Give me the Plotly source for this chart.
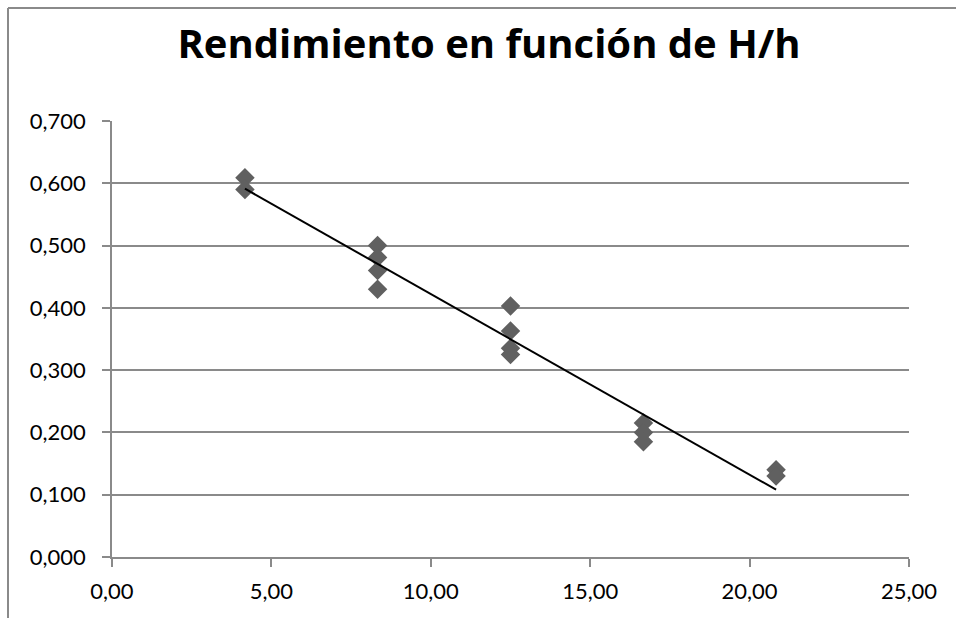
import numpy as np
import plotly.graph_objects as go

# Data
x_vals = [4.17, 4.17, 8.33, 8.33, 8.33, 8.33, 12.50, 12.50, 12.50, 12.50,
          16.67, 16.67, 16.67, 20.83, 20.83]
y_vals = [0.609, 0.590, 0.500, 0.481, 0.460, 0.430, 0.403, 0.363, 0.335, 0.325,
          0.215, 0.200, 0.185, 0.140, 0.130]
title_text = "Rendimiento en función de H/h"
x_ticks = [0, 5, 10, 15, 20, 25]
y_ticks = [0, 0.1, 0.2, 0.3, 0.4, 0.5, 0.6, 0.7]

# Linear trend line from data
slope, intercept = np.polyfit(x_vals, y_vals, 1)
tx = np.array([min(x_vals), max(x_vals)])
ty = slope * tx + intercept

GRID = "#8a8a8a"
FONT = "Lato"

fig = go.Figure()
fig.add_trace(go.Scatter(
    x=x_vals, y=y_vals, mode="markers",
    marker=dict(symbol="diamond", size=15, color="#606060", line=dict(width=0)),
    showlegend=False,
))
fig.add_trace(go.Scatter(
    x=tx, y=ty, mode="lines",
    line=dict(color="black", width=2),
    showlegend=False,
))

W, H = 957, 619
L, R, T, B = 112, 48, 121, 62

fig.update_layout(
    width=W, height=H,
    margin=dict(l=L, r=R, t=T, b=B),
    paper_bgcolor="white", plot_bgcolor="white",
    separators=",.",
    font=dict(family=FONT, color="black", size=22),
    title=dict(text="<b>" + title_text + "</b>", x=489 / W, xanchor="center",
               y=1 - 44 / H, yanchor="middle", yref="container",
               font=dict(family="Open Sans", size=40, color="black")),
    xaxis=dict(range=[0, 25], tickvals=x_ticks, tickformat=".2f",
               showgrid=False, zeroline=False,
               showline=True, linecolor=GRID, linewidth=1.5,
               ticks="outside", ticklen=8, tickcolor=GRID, tickwidth=1.5,
               ticklabelstandoff=6,
               tickfont=dict(family=FONT, size=22)),
    yaxis=dict(range=[0, 0.7], tickvals=y_ticks, tickformat=".3f",
               showgrid=True, gridcolor=GRID, gridwidth=1.5, zeroline=False,
               showline=True, linecolor=GRID, linewidth=1.5,
               ticks="outside", ticklen=8, tickcolor=GRID, tickwidth=1.5,
               ticklabelstandoff=12,
               tickfont=dict(family=FONT, size=22)),
)

# chart-area border: left and top edges (pixel offsets from the plot-area corner)
fig.add_shape(type="line", xref="paper", yref="paper",
              xsizemode="pixel", ysizemode="pixel", xanchor=0, yanchor=1,
              x0=-(L - 8), x1=W - L - 1, y0=T - 8, y1=T - 8,
              line=dict(color="#8a8a8a", width=2))
fig.add_shape(type="line", xref="paper", yref="paper",
              xsizemode="pixel", ysizemode="pixel", xanchor=0, yanchor=1,
              x0=-(L - 8), x1=-(L - 8), y0=T - 8, y1=-(H - T - 1),
              line=dict(color="#8a8a8a", width=2))

fig.write_html("out.html", config={"displayModeBar": False},
               post_script="document.body.style.margin='0';document.body.style.overflow='hidden';")
